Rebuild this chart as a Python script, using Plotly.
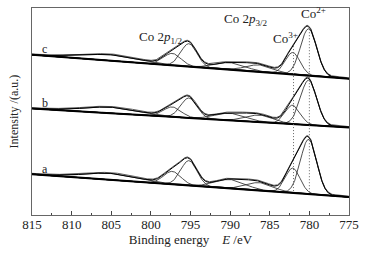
import numpy as np
import plotly.graph_objects as go

# ---- data (intensity in arbitrary units) ----
samples = ["a", "b", "c"]
# linear background: value at 815 eV and at 775 eV
bg_left = [41, 107, 161]
bg_right = [18, 88, 137]
# fitted components: centre (eV), FWHM (eV)
comp_names = ["Co2+ 2p3/2", "Co3+ 2p3/2", "sat 786", "sat 790", "Co2+ 2p1/2", "Co3+ 2p1/2", "sat 805"]
comp_center = [780.1, 782.1, 786.3, 790.0, 795.2, 797.3, 805.0]
comp_fwhm = [2.4, 2.2, 4.0, 4.5, 2.4, 2.6, 8.0]
# heights of each component for samples a, b, c
height_a = [55, 25, 8, 9, 25, 13, 6.5]
height_b = [45, 19, 7, 7, 20, 10, 6]
height_c = [47, 22, 7, 7, 23, 12, 6]
heights = [height_a, height_b, height_c]
x_ticks = [815, 810, 805, 800, 795, 790, 785, 780, 775]
ref_lines = [782.0, 780.0]   # Co3+ and Co2+ reference positions

E = np.linspace(775, 815, 801)

def background(i, e):
    return bg_right[i] + (bg_left[i] - bg_right[i]) * (np.asarray(e) - 775) / 40.0

def gauss(e, c, h, fw):
    s = fw / 2.3548
    return h * np.exp(-0.5 * ((e - c) / s) ** 2)

fig = go.Figure()
tops = []
for i, name in enumerate(samples):
    bg = background(i, E)
    env = bg.copy()
    for c, fw, h in zip(comp_center, comp_fwhm, heights[i]):
        comp = gauss(E, c, h, fw)
        env = env + comp
        fig.add_trace(go.Scatter(x=E, y=bg + comp, mode="lines",
                                 line=dict(color="#222", width=0.8), showlegend=False, hoverinfo="skip"))
    # raw data and fitted envelope
    fig.add_trace(go.Scatter(x=E, y=env + 0.8, mode="lines",
                             line=dict(color="#333", width=0.8), showlegend=False, hoverinfo="skip"))
    fig.add_trace(go.Scatter(x=E, y=env, mode="lines",
                             line=dict(color="#000", width=1.0), showlegend=False, hoverinfo="skip"))
    fig.add_trace(go.Scatter(x=E, y=bg, mode="lines",
                             line=dict(color="#000", width=2.0), showlegend=False, hoverinfo="skip"))
    tops.append(env)

label_y = [46, 113, 167]
for name, ly in zip(samples, label_y):
    fig.add_annotation(x=813.4, y=ly, text=name, showarrow=False,
                       xanchor="center", yanchor="middle",
                       font=dict(family="Liberation Serif", size=12, color="#222"))

# dotted reference lines from top spectrum peak down to bottom baseline
for r in ref_lines:
    j = int(np.argmin(np.abs(E - r)))
    fig.add_trace(go.Scatter(x=[r, r], y=[background(0, r) + 2, tops[2][j] - 2], mode="lines",
                             line=dict(color="#666", width=1, dash="1px,2px"),
                             showlegend=False, hoverinfo="skip"))

font_t = dict(family="Liberation Serif", size=13, color="#222")
fig.add_annotation(x=798.8, y=178, text="Co 2<i>p</i><sub>1/2</sub>", showarrow=False, font=font_t,
                   xanchor="center", yanchor="middle")
fig.add_annotation(x=788.1, y=196, text="Co 2<i>p</i><sub>3/2</sub>", showarrow=False, font=font_t,
                   xanchor="center", yanchor="middle")
fig.add_annotation(x=783.0, y=178, text="Co<sup>3+</sup>", showarrow=False, font=font_t,
                   xanchor="center", yanchor="middle")
fig.add_annotation(x=779.5, y=203, text="Co<sup>2+</sup>", showarrow=False, font=font_t,
                   xanchor="center", yanchor="middle")
fig.add_annotation(xref="paper", yref="paper", x=-0.057, y=0.5, text="Intensity /(a.u.)",
                   textangle=-90, showarrow=False, xanchor="center", yanchor="middle",
                   font=dict(family="Liberation Serif", size=12, color="#222"))

fig.update_layout(
    width=373, height=253,
    margin=dict(l=32, r=24, t=8, b=38),
    paper_bgcolor="white", plot_bgcolor="white",
    font=dict(family="Liberation Serif", size=13, color="#222"),
    xaxis=dict(range=[815, 775], tickvals=x_ticks, ticks="inside", ticklen=4, tickwidth=1,
               tickcolor="#444", showline=True, linecolor="#666", linewidth=1, mirror=True,
               showgrid=False, zeroline=False, automargin=False, ticklabelstandoff=-3,
               minor=dict(dtick=2.5, ticks="inside", ticklen=2, tickcolor="#444", showgrid=False),
               title=dict(text="Binding energy    <i>E</i> /eV", standoff=0,
                          font=dict(family="Liberation Serif", size=13)),
               tickfont=dict(family="Liberation Serif", size=13)),
    yaxis=dict(range=[0, 208], showticklabels=False, ticks="", showline=True, linecolor="#666",
               linewidth=1, mirror=True, showgrid=False, zeroline=False, automargin=False),
)
fig.write_html("out.html", config={"displayModeBar": False},
               post_script="document.body.style.margin='0px';document.body.style.padding='0px';")
